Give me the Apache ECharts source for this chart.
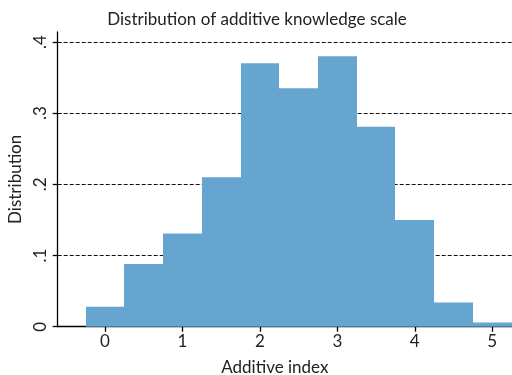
<!DOCTYPE html>
<html><head><meta charset="utf-8">
<script src="https://cdn.jsdelivr.net/npm/echarts@6/dist/echarts.min.js"></script>
<style>html,body{margin:0;padding:0;background:#fff}#c{width:512px;height:375px}</style>
</head><body><div id="c"></div>
<script>
const binStarts = [-0.25, 0.25, 0.75, 1.25, 1.75, 2.25, 2.75, 3.25, 3.75, 4.25, 4.75];
const binWidth = 0.5;
const densities = [0.028, 0.088, 0.131, 0.210, 0.370, 0.335, 0.380, 0.281, 0.150, 0.034, 0.006];
const xTicks = [0, 1, 2, 3, 4, 5];
const yTicks = [0, 0.1, 0.2, 0.3, 0.4];
const titleText = 'Distribution of additive knowledge scale';
const xName = 'Additive index';
const yName = 'Distribution';

const data = binStarts.map((s, i) => [s, s + binWidth, densities[i]]);
const FONT = 'Lato';
const chart = echarts.init(document.getElementById('c'), null, {renderer: 'canvas'});
chart.setOption({
  animation: false,
  backgroundColor: '#fff',
  title: {text: titleText, left: 252, top: 6, textAlign: 'center',
    textStyle: {fontFamily: FONT, fontSize: 17, fontWeight: 'normal', color: '#222'}},
  grid: {left: 57.7, right: 0, top: 32, bottom: 48.3, outerBoundsMode: 'none', containLabel: false},
  xAxis: {type: 'value', min: -0.61, max: 5.255,
    name: xName, nameLocation: 'middle', nameGap: 32,
    nameTextStyle: {fontFamily: FONT, fontSize: 17, color: '#222', padding: [0, 20, 0, 0]},
    axisLine: {show: true, onZero: false, lineStyle: {color: '#000', width: 1.3}},
    axisTick: {show: true, customValues: xTicks, length: 5, lineStyle: {color: '#000', width: 1.3}},
    axisLabel: {customValues: xTicks, fontFamily: FONT, fontSize: 17, color: '#222', margin: 6},
    splitLine: {show: false}},
  yAxis: {type: 'value', min: 0, max: 0.414, interval: 0.1,
    name: yName, nameLocation: 'middle', nameGap: 32, nameRotate: 90,
    nameTextStyle: {fontFamily: FONT, fontSize: 17, color: '#222', padding: [0, 0, 0, 0]},
    axisLine: {show: true, onZero: false, lineStyle: {color: '#000', width: 1.3}},
    axisTick: {show: true, customValues: yTicks, length: 5, lineStyle: {color: '#000', width: 1.3}},
    axisLabel: {customValues: yTicks, rotate: 90, fontFamily: FONT, fontSize: 17, color: '#222', margin: 9,
      formatter: v => v === 0 ? '0' : String(Math.round(v * 10) / 10).replace(/^0/, '')},
    splitLine: {show: true, showMinLine: false, showMaxLine: true,
      lineStyle: {color: '#111', type: [4, 2], width: 1}}},
  series: [{
    type: 'custom',
    data: data,
    encode: {x: [0, 1], y: 2},
    renderItem: function (params, api) {
      const p0 = api.coord([api.value(0), 0]);
      const p1 = api.coord([api.value(1), api.value(2)]);
      const x0 = Math.round(p0[0]), x1 = Math.round(p1[0]);
      return {type: 'rect',
        shape: {x: x0, y: p1[1], width: x1 - x0, height: p0[1] - p1[1]},
        style: {fill: '#65a5cf', lineWidth: 0}};
    },
    z: 3
  }]
});
</script></body></html>
